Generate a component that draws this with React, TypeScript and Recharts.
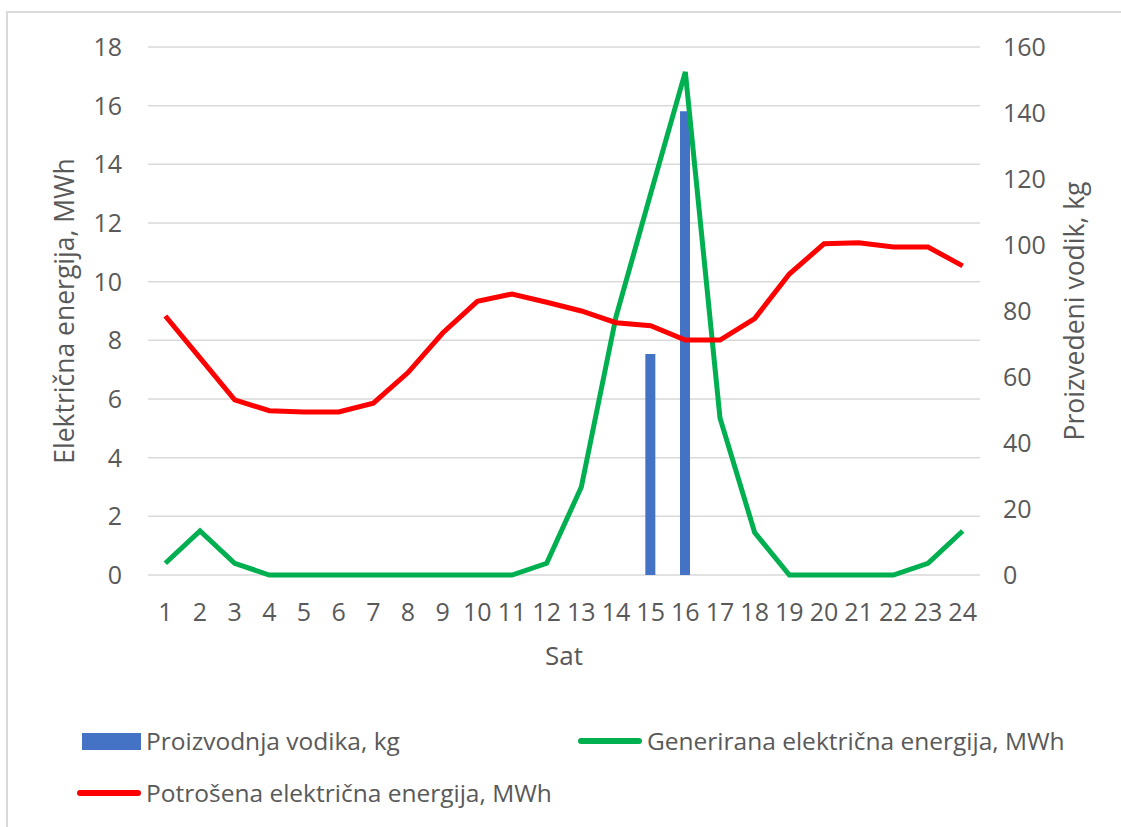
import {
  ComposedChart,
  Bar,
  Line,
  XAxis,
  YAxis,
  CartesianGrid,
  Legend,
} from "recharts";

const hours = [
  "1", "2", "3", "4", "5", "6", "7", "8", "9", "10", "11", "12",
  "13", "14", "15", "16", "17", "18", "19", "20", "21", "22", "23", "24",
];

// Proizvodnja vodika, kg (desna os)
const hydrogen = [
  null, null, null, null, null, null, null, null, null, null, null, null,
  null, null, 67, 140.5, null, null, null, null, null, null, null, null,
];

// Generirana električna energija, MWh
const generated = [
  0.4, 1.5, 0.4, 0, 0, 0, 0, 0, 0, 0, 0, 0.4,
  3.0, 8.8, 13.0, 17.15, 5.35, 1.45, 0, 0, 0, 0, 0.4, 1.5,
];

// Potrošena električna energija, MWh
const consumed = [
  8.83, 7.4, 5.97, 5.6, 5.56, 5.56, 5.86, 6.9, 8.25, 9.33, 9.58, 9.3,
  9.0, 8.6, 8.5, 8.01, 8.01, 8.74, 10.26, 11.29, 11.33, 11.18, 11.18, 10.54,
];

const leftTicks = [0, 2, 4, 6, 8, 10, 12, 14, 16, 18];
const rightTicks = [0, 20, 40, 60, 80, 100, 120, 140, 160];

const data = hours.map((h, i) => ({
  hour: h,
  vodik: hydrogen[i],
  gen: generated[i],
  pot: consumed[i],
}));

const FONT = "'Open Sans', sans-serif";
const TEXT = "#595959";

const tickStyle = { fontSize: 25, fill: TEXT, fontFamily: FONT };

function LegendBox() {
  const item = (label: string, mark: JSX.Element, left: number, top: number) => (
    <div
      style={{
        position: "absolute",
        left,
        top,
        display: "flex",
        alignItems: "center",
        fontFamily: FONT,
        fontSize: 24.5,
        color: TEXT,
        whiteSpace: "nowrap",
        lineHeight: "30px",
      }}
    >
      {mark}
      <span style={{ marginLeft: 5 }}>{label}</span>
    </div>
  );
  const line = (color: string) => (
    <div style={{ width: 64, height: 6, borderRadius: 3, background: color }} />
  );
  return (
    <div style={{ position: "relative", width: 1121, height: 120 }}>
      {item(
        "Proizvodnja vodika, kg",
        <div style={{ width: 59, height: 17, background: "#4472C4" }} />,
        82,
        19
      )}
      {item("Generirana električna energija, MWh", line("#00B050"), 578, 19)}
      {item("Potrošena električna energija, MWh", line("#FF0000"), 77, 71)}
    </div>
  );
}

export default function App() {
  return (
    <div
      style={{
        position: "absolute",
        left: 0,
        top: 0,
        width: 1121,
        height: 827,
        background: "#fff",
        overflow: "hidden",
      }}
    >
      <div
        style={{
          position: "absolute",
          left: 6,
          top: 11,
          width: 1130,
          height: 840,
          border: "2px solid #d9d9d9",
        }}
      />
      <ComposedChart
        width={1121}
        height={827}
        data={data}
        margin={{ top: 47, right: 41, left: 40, bottom: 0 }}
      >
        <CartesianGrid
          yAxisId="left"
          vertical={false}
          stroke="#d9d9d9"
          strokeWidth={1.5}
        />
        <XAxis
          dataKey="hour"
          height={132}
          axisLine={false}
          tickLine={false}
          tickSize={0}
          tickMargin={28}
          interval={0}
          tick={tickStyle}
          label={{
            value: "Sat",
            position: "insideTop",
            offset: 72,
            style: { fontSize: 26, fill: TEXT, fontFamily: FONT },
          }}
        />
        <YAxis
          yAxisId="left"
          width={108}
          domain={[0, 18]}
          ticks={leftTicks}
          axisLine={false}
          tickLine={false}
          tickSize={0}
          tickMargin={26}
          tick={tickStyle}
          label={{
            value: "Električna energija, MWh",
            angle: -90,
            position: "insideLeft",
            offset: 25,
            style: {
              textAnchor: "middle",
              fontSize: 26.5,
              fill: TEXT,
              fontFamily: FONT,
            },
          }}
        />
        <YAxis
          yAxisId="right"
          orientation="right"
          width={100}
          domain={[0, 160]}
          ticks={rightTicks}
          axisLine={false}
          tickLine={false}
          tickSize={0}
          tickMargin={23}
          tick={tickStyle}
          label={{
            value: "Proizvedeni vodik, kg",
            angle: -90,
            position: "insideRight",
            offset: 5,
            style: {
              textAnchor: "middle",
              fontSize: 26.5,
              fill: TEXT,
              fontFamily: FONT,
            },
          }}
        />
        <Legend
          verticalAlign="bottom"
          height={120}
          wrapperStyle={{ left: 0, width: 1121 }}
          content={() => <LegendBox />}
        />
        <Bar
          yAxisId="right"
          dataKey="vodik"
          name="Proizvodnja vodika, kg"
          fill="#4472C4"
          barSize={10}
          isAnimationActive={false}
        />
        <Line
          yAxisId="left"
          dataKey="gen"
          name="Generirana električna energija, MWh"
          type="linear"
          stroke="#00B050"
          strokeWidth={5}
          dot={false}
          activeDot={false}
          isAnimationActive={false}
        />
        <Line
          yAxisId="left"
          dataKey="pot"
          name="Potrošena električna energija, MWh"
          type="linear"
          stroke="#FF0000"
          strokeWidth={5}
          dot={false}
          activeDot={false}
          isAnimationActive={false}
        />
      </ComposedChart>
    </div>
  );
}
